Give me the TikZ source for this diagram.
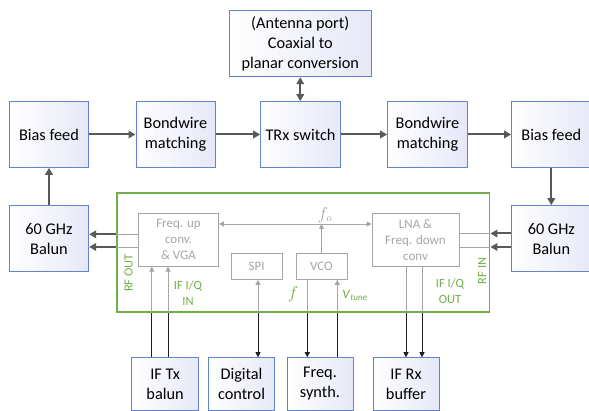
\documentclass[tikz,border=0pt]{standalone}
\usepackage{fontspec}
\setmainfont{Carlito}
\usetikzlibrary{arrows.meta}
\definecolor{boxblue}{RGB}{98,132,204}
\definecolor{boxlav}{RGB}{230,232,247}
\definecolor{chipgreen}{RGB}{112,173,71}
\definecolor{ingray}{RGB}{166,166,166}
\definecolor{darkline}{RGB}{89,89,89}
\definecolor{wirecol}{RGB}{30,30,30}

\begin{document}
\begin{tikzpicture}[x=1pt,y=-1pt,
  blk/.style={draw=boxblue, line width=1pt, left color=white, right color=boxlav,
    align=center, inner sep=0pt, text=black, font=\fontsize{16.3}{20}\selectfont},
  inblk/.style={draw=ingray, line width=1pt, fill=white, align=center, inner sep=0pt,
    text=ingray, font=\fontsize{13}{16}\selectfont},
  bigtip/.tip={Triangle[length=7pt,width=7.5pt]},
  smalltip/.tip={Triangle[length=5pt,width=5pt]},
  bigarrow/.style={draw=darkline, line width=2pt, -bigtip},
  inline/.style={draw=ingray, line width=0.9pt},
  inarrow/.style={inline, -smalltip},
  wire/.style={draw=wirecol, line width=0.9pt},
  wirearrow/.style={wire, -smalltip},
  glabel/.style={text=chipgreen, align=center, inner sep=0pt, font=\fontsize{12.5}{16}\selectfont}
]
\useasboundingbox (0,0) rectangle (589,411);

% antenna port and RF front-end chain
\node[blk, minimum width=142.5pt, minimum height=66pt] (ant) at (300.25,43.7)
  {(Antenna port)\\Coaxial to\\planar conversion};
\node[blk, minimum width=79.3pt, minimum height=65.6pt] (biasL) at (49,134.5) {Bias feed};
\node[blk, minimum width=79pt, minimum height=65.6pt] (bondL) at (175.5,134.5) {Bondwire\\matching};
\node[blk, minimum width=79.6pt, minimum height=65.6pt] (trx) at (300.5,134.5) {TRx switch};
\node[blk, minimum width=79.6pt, minimum height=65.6pt] (bondR) at (427.5,134.5) {Bondwire\\matching};
\node[blk, minimum width=79.4pt, minimum height=65.6pt] (biasR) at (551.3,134.5) {Bias feed};

\node[blk, minimum width=79.3pt, minimum height=66pt] (balunL) at (49,238.7) {60 GHz\\Balun};
\node[blk, minimum width=79.4pt, minimum height=66pt] (balunR) at (551.3,238.7) {60 GHz\\Balun};

% transceiver chip
\node[draw=chipgreen, line width=1.8pt, minimum width=372.7pt, minimum height=119pt,
  inner sep=0pt] (chip) at (303.15,252.2) {};
\node[inblk, minimum width=79.7pt, minimum height=52.7pt] (upconv) at (178.5,239.7)
  {Freq. up\\conv.\\\& VGA};
\node[inblk, minimum width=87pt, minimum height=52.7pt] (lna) at (415.5,239.7)
  {LNA \&\\Freq. down\\conv};
\node[inblk, minimum width=50.6pt, minimum height=26pt] (spi) at (256.7,266.3) {SPI};
\node[inblk, minimum width=51pt, minimum height=26pt] (vco) at (321.5,266.3) {VCO};

% baseband blocks
\node[blk, minimum width=66.4pt, minimum height=52.3pt] (iftx) at (165.1,383.9) {IF Tx\\balun};
\node[blk, minimum width=66pt, minimum height=52.3pt] (dig) at (241.5,383.9) {Digital\\control};
\node[blk, minimum width=66pt, minimum height=52.3pt] (synth) at (320,383.9) {Freq.\\synth.};
\node[blk, minimum width=66pt, minimum height=52.3pt] (ifrx) at (406,383.9) {IF Rx\\buffer};

% RF chain connections
\draw[bigarrow] (biasL) -- (bondL);
\draw[bigarrow] (bondL) -- (trx);
\draw[bigarrow] (trx) -- (bondR);
\draw[bigarrow] (bondR) -- (biasR);
\draw[bigarrow, bigtip-bigtip] (ant.south) -- (ant.south |- trx.north);
\draw[bigarrow] (balunL) -- (biasL);
\draw[bigarrow] (biasR) -- (balunR);

% RF out / RF in
\foreach \yy in {234.3,247} {
  \draw[inline] (upconv.west |- 0,\yy) -- (chip.west |- 0,\yy);
  \draw[bigarrow] (chip.west |- 0,\yy) -- (balunL.east |- 0,\yy);
}
\foreach \yy in {233.5,247} {
  \draw[inline] (lna.east |- 0,\yy) -- (chip.east |- 0,\yy);
  \draw[bigarrow] (balunR.west |- 0,\yy) -- (chip.east |- 0,\yy);
}

% LO distribution
\draw[inline, smalltip-smalltip] (upconv.east |- 0,224) -- (lna.west |- 0,224);
\draw[inarrow] (vco.north) -- (vco.north |- 0,224);

% IF I/Q in
\foreach \xx in {151.8,168} {
  \draw[wire] (iftx.north -| \xx,0) -- (chip.south -| \xx,0);
  \draw[inarrow] (chip.south -| \xx,0) -- (upconv.south -| \xx,0);
}
% SPI
\draw[inarrow] (chip.south -| 258,0) -- (spi.south -| 258,0);
\draw[wirearrow] (chip.south -| 258,0) -- (dig.north -| 258,0);
% VCO frequency and tuning voltage
\draw[inline] (vco.south -| 307.3,0) -- (chip.south -| 307.3,0);
\draw[wirearrow] (chip.south -| 307.3,0) -- (synth.north -| 307.3,0);
\draw[wire] (synth.north -| 337.3,0) -- (chip.south -| 337.3,0);
\draw[inarrow] (chip.south -| 337.3,0) -- (vco.south -| 337.3,0);
% IF I/Q out
\foreach \xx in {406,422} {
  \draw[inline] (lna.south -| \xx,0) -- (chip.south -| \xx,0);
  \draw[wirearrow] (chip.south -| \xx,0) -- (ifrx.north -| \xx,0);
}

% labels
\node[text=ingray, inner sep=0pt, font=\fontsize{16}{18}\selectfont] (folbl) at (325,215) {$f_o$};
\node[glabel, rotate=90] (rfout) at (128.5,273) {RF OUT};
\node[glabel, rotate=90] (rfin) at (482,271) {RF IN};
\node[glabel] (iqin) at (188,293) {IF I/Q\\IN};
\node[glabel] (iqout) at (450,291.5) {IF I/Q\\OUT};
\node[glabel, font=\fontsize{18}{20}\selectfont] (flbl) at (293,294) {$f$};
\node[glabel, font=\fontsize{13}{16}\selectfont] (vlbl) at (355,295)
  {\textit{V}\textsubscript{\textit{tune}}};
\end{tikzpicture}
\end{document}
